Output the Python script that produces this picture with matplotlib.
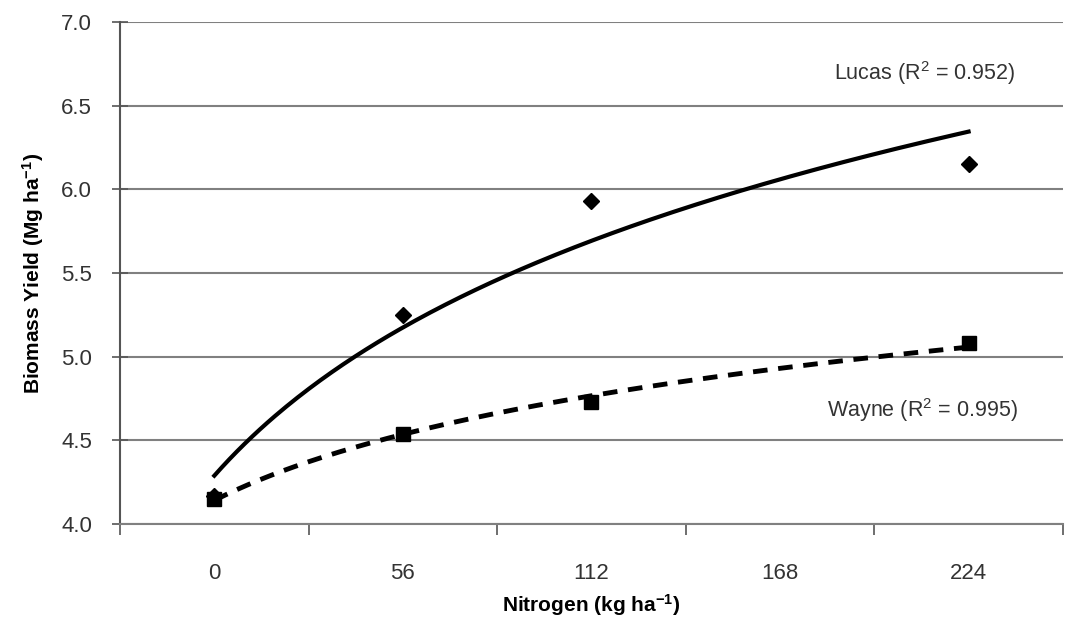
import matplotlib.pyplot as plt
import numpy as np

# nitrogen rates (kg/ha) and measured biomass yield (Mg/ha)
nitrogen = np.array([0, 56, 112, 224])
lucas = np.array([4.17, 5.25, 5.93, 6.15])
wayne = np.array([4.15, 4.54, 4.73, 5.08])
xlabels = ['0', '56', '112', '168', '224']
xlabel_pos = [0, 56, 112, 168, 224]
yticks = [4.0, 4.5, 5.0, 5.5, 6.0, 6.5, 7.0]

plt.rcParams['font.family'] = ['Liberation Sans', 'DejaVu Sans']
plt.rcParams['mathtext.default'] = 'regular'

# Excel-style log trendline on category position (1..5)
pos = nitrogen / 56.0 + 1
u = np.linspace(1, 5, 200)
xf = (u - 1) * 56.0
a_l, b_l = np.polyfit(np.log(pos), lucas, 1)
a_w, b_w = np.polyfit(np.log(pos), wayne, 1)

fig = plt.figure(figsize=(10.65, 6.22), dpi=100)
ax = fig.add_axes([0.1127, 0.1576, 0.8853, 0.807])

ax.plot(xf, a_l * np.log(u) + b_l, color='black', lw=3, zorder=3)
ax.plot(xf, a_w * np.log(u) + b_w, color='black', lw=3.5, ls=(0, (3, 2.2)), zorder=3)
ax.plot(nitrogen, lucas, 'D', color='black', ms=8, zorder=4)
ax.plot(nitrogen, wayne, 's', color='black', ms=10, zorder=5)

fig.text(925 / 1065, 1 - 73 / 622, 'Lucas (R$^2$ = 0.952)', ha='center', va='center',
         fontsize=15.5, color='#333333')
fig.text(922 / 1065, 1 - 410 / 622, 'Wayne (R$^2$ = 0.995)', ha='center', va='center',
         fontsize=15.5, color='#333333')

ax.set_xlim(-28, 252)
ax.set_ylim(4.0, 7.0)
ax.set_yticks(yticks)
ax.set_yticklabels(['%.1f' % v for v in yticks])
ax.yaxis.grid(True, color='#808080', lw=1.5)
ax.set_axisbelow(True)

ax.set_xticks([-28, 28, 84, 140, 196, 252])
ax.set_xticklabels([])
ax.set_xticks(xlabel_pos, minor=True)
ax.set_xticklabels(xlabels, minor=True)
ax.tick_params(axis='x', which='minor', length=0, pad=28, labelsize=16, labelcolor='#333333')
ax.tick_params(axis='x', which='major', direction='out', length=8, width=1.2, color='#555555')
ax.tick_params(axis='y', direction='inout', length=12, width=1.2, color='#555555',
               labelsize=16, labelcolor='#333333', pad=14)

for s in ['top', 'right']:
    ax.spines[s].set_visible(False)
ax.spines['left'].set_color('#555555')
ax.spines['left'].set_linewidth(1.5)
ax.spines['bottom'].set_color('#808080')
ax.spines['bottom'].set_linewidth(1.5)

ax.set_xlabel('Nitrogen (kg ha$^{-1}$)', fontsize=15, fontweight='bold', labelpad=6)
ax.set_ylabel('Biomass Yield (Mg ha$^{-1}$)', fontsize=15, fontweight='bold', labelpad=11)

fig.savefig('out.png', dpi=100)
